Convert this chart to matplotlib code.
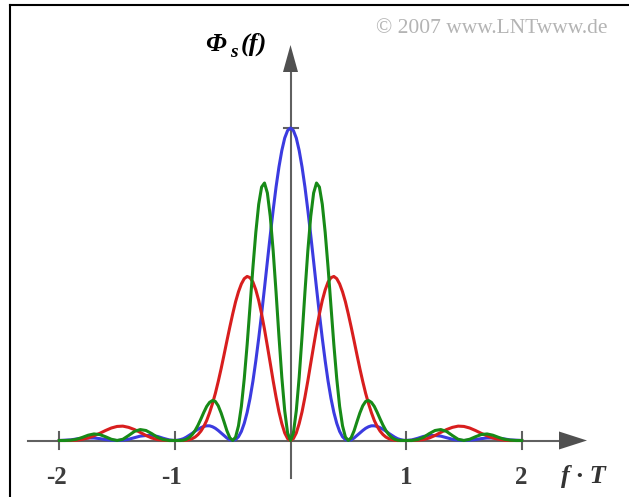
import numpy as np
import matplotlib.pyplot as plt
from matplotlib.lines import Line2D

f_half = np.concatenate([np.linspace(0, 1, 41), np.linspace(1.05, 2, 20)])
blue_half = [1.000, 0.992, 0.968, 0.928, 0.875, 0.811, 0.737, 0.657, 0.573, 0.488,
             0.405, 0.327, 0.255, 0.190, 0.135, 0.090, 0.055, 0.029, 0.012, 0.003,
             0.000, 0.002, 0.008, 0.016, 0.024, 0.032, 0.039, 0.044, 0.047, 0.047,
             0.045, 0.041, 0.036, 0.030, 0.023, 0.017, 0.011, 0.006, 0.003, 0.001, 0.000,
             0.002, 0.007, 0.013, 0.016, 0.016, 0.014, 0.009, 0.004, 0.001, 0.000,
             0.001, 0.003, 0.006, 0.008, 0.008, 0.007, 0.005, 0.002, 0.001, 0.000]
red_half = [0.000, 0.006, 0.024, 0.054, 0.092, 0.139, 0.191, 0.247, 0.302, 0.356,
            0.405, 0.448, 0.482, 0.507, 0.521, 0.525, 0.518, 0.501, 0.476, 0.444,
            0.405, 0.363, 0.319, 0.274, 0.230, 0.189, 0.151, 0.118, 0.089, 0.064,
            0.045, 0.030, 0.019, 0.011, 0.006, 0.003, 0.001, 0.000, 0.000, 0.000, 0.000,
            0.000, 0.001, 0.003, 0.008, 0.016, 0.026, 0.035, 0.042, 0.046, 0.045,
            0.040, 0.032, 0.023, 0.015, 0.008, 0.004, 0.001, 0.000, 0.000, 0.000]
green_half = [0.000, 0.024, 0.095, 0.202, 0.334, 0.475, 0.607, 0.717, 0.792, 0.824,
              0.811, 0.756, 0.666, 0.554, 0.430, 0.307, 0.198, 0.109, 0.047, 0.011,
              0.000, 0.009, 0.031, 0.060, 0.088, 0.111, 0.125, 0.128, 0.122, 0.109,
              0.090, 0.069, 0.049, 0.032, 0.019, 0.010, 0.004, 0.001, 0.000, 0.000, 0.000,
              0.000, 0.003, 0.010, 0.022, 0.032, 0.035, 0.029, 0.016, 0.004, 0.000,
              0.004, 0.012, 0.019, 0.021, 0.017, 0.010, 0.004, 0.001, 0.000, 0.000]
xticks = [-2, -1, 1, 2]
xtick_labels = ['-2', '-1', '1', '2']


def spiegeln(werte):
    werte = np.asarray(werte)
    return np.concatenate([werte[:0:-1], werte])


f = np.concatenate([-f_half[:0:-1], f_half])

# Pixel -> Datenkoordinaten (nur fuer Achsen und Beschriftung)
X0, SX, Y0, SY = 290.5, 115.6, 440.5, 312.5


def xd(px):
    return (px - X0) / SX


def yd(py):
    return (Y0 - py) / SY


fig = plt.figure(figsize=(6.29, 4.97), dpi=100, facecolor='white')
ax = fig.add_axes([0, 0, 1, 1])
ax.set_xlim(xd(0), xd(629))
ax.set_ylim(yd(497), yd(0))
ax.axis('off')

achse = '#606060'
# x-Achse mit Pfeil
ax.plot([xd(28), xd(562)], [0, 0], color=achse, lw=1.5, zorder=1)
ax.fill([xd(559), xd(587), xd(559)], [yd(431.5), 0, yd(449.5)], color='#505050', lw=0, zorder=1)
# y-Achse mit Pfeil
ax.plot([0, 0], [yd(478), yd(70)], color=achse, lw=1.5, zorder=1)
ax.fill([xd(283), 0, xd(298)], [yd(72), yd(45), yd(72)], color='#505050', lw=0, zorder=1)

for t, lab in zip(xticks, xtick_labels):
    ax.plot([t, t], [yd(432), yd(449)], color=achse, lw=1.5, zorder=1)
    dx = -3 / SX if t < 0 else 0
    ax.text(t + dx, yd(484), lab, ha='center', va='baseline', fontsize=18,
            fontweight='bold', family='Liberation Serif', color='#3c3c3c')
ax.plot([xd(284), xd(298)], [1, 1], color=achse, lw=1.5, zorder=1)

# Kurven
ax.plot(f, spiegeln(blue_half), color='#3b3be0', lw=2.2, zorder=3)
ax.plot(f, spiegeln(red_half), color='#d81e1e', lw=2.2, zorder=4)
ax.plot(f, spiegeln(green_half), color='#178a17', lw=2.2, zorder=5)

# Beschriftungen
schrift = dict(family='Liberation Serif', fontweight='bold', style='italic', va='baseline')
ax.text(xd(205), yd(51), 'Φ', fontsize=19, ha='left', **schrift)
ax.text(xd(230), yd(57), 's', fontsize=14, ha='left', **schrift)
ax.text(xd(241), yd(51), '(f)', fontsize=19, ha='left', **schrift)
ax.text(xd(583), yd(483), 'f · T', fontsize=19, ha='center', color='#333333', **schrift)
ax.text(xd(607), yd(33), '© 2007 www.LNTwww.de', ha='right', va='baseline',
        fontsize=15.5, color='#b4b4b4', family='Liberation Serif')

# Rahmen oben und links
fig.add_artist(Line2D([10 / 629, 1], [1 - 5 / 497, 1 - 5 / 497], color='black', lw=1.5))
fig.add_artist(Line2D([10 / 629, 10 / 629], [0, 1 - 5 / 497], color='black', lw=1.5))

fig.savefig('out.png', dpi=100)
